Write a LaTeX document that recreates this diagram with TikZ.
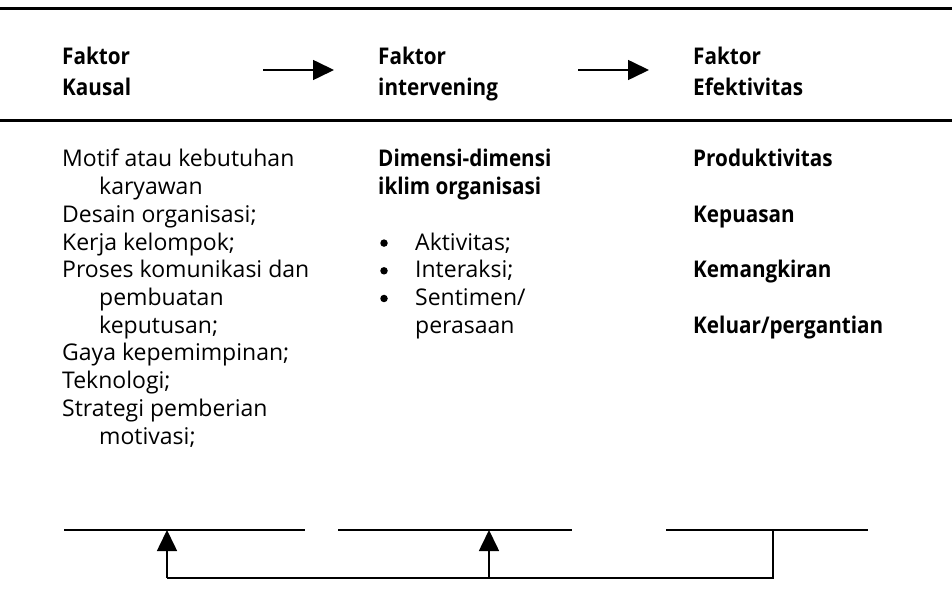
\documentclass[tikz,border=0pt]{standalone}
\usepackage{fontspec}
\setmainfont{Open Sans}[BoldFeatures={FakeStretch=0.9}]
\usetikzlibrary{arrows.meta}
\begin{document}
\begin{tikzpicture}[x=1pt,y=-1pt,
  txt/.style={anchor=base west, inner sep=0pt, font=\fontsize{23}{27.7}\selectfont},
  hd/.style={anchor=base west, inner sep=0pt, font=\fontsize{23}{27.7}\selectfont\bfseries},
  bul/.style={circle, fill, inner sep=0pt, minimum size=7.5pt},
  rule/.style={line width=3pt},
  conn/.style={line width=1.6pt},
  tip/.style={-{Triangle[length=21pt,width=20pt]}}]
\useasboundingbox (0,0) rectangle (952,609);

% header rules
\draw[rule] (0,9) -- (952,9);
\draw[rule] (0,121) -- (952,121);

% column headings
\node[hd] (h1a) at (62,65) {Faktor};
\node[hd] (h1b) at (62,96) {Kausal};
\node[hd] (h2a) at (378,65) {Faktor};
\node[hd] (h2b) at (378,96) {intervening};
\node[hd] (h3a) at (693,65) {Faktor};
\node[hd] (h3b) at (693,96) {Efektivitas};

% arrows between headings
\coordinate (a1s) at (263,70);
\coordinate (a1e) at (334,70);
\coordinate (a2s) at (578,70);
\coordinate (a2e) at (649,70);
\draw[conn,tip] (a1s) -- (a1e);
\draw[conn,tip] (a2s) -- (a2e);

% causal factors
\foreach \t/\x/\i [count=\n] in {
  {Motif atau kebutuhan}/62/0,
  {karyawan}/99/1,
  {Desain organisasi;}/62/2,
  {Kerja kelompok;}/62/3,
  {Proses komunikasi dan}/62/4,
  {pembuatan}/99/5,
  {keputusan;}/99/6,
  {Gaya kepemimpinan;}/62/7,
  {Teknologi;}/62/8,
  {Strategi pemberian}/62/9,
  {motivasi;}/99/10}
  \node[txt] (k\n) at (\x,167+27.7*\i) {\t};

% intervening factors
\node[hd] (d1) at (378,167) {Dimensi-dimensi};
\node[hd] (d2) at (378,194.7) {iklim organisasi};
\foreach \t/\i [count=\n] in {{Aktivitas;}/3, {Interaksi;}/4, {Sentimen/}/5} {
  \node[bul] (b\n) at (384,167+27.7*\i-7) {};
  \node[txt] (i\n) at (415,167+27.7*\i) {\t};
}
\node[txt] (i4) at (415,167+27.7*6) {perasaan};

% effectiveness factors
\node[hd] (e1) at (693,167) {Produktivitas};
\node[hd] (e2) at (693,167+27.7*2) {Kepuasan};
\node[hd] (e3) at (693,167+27.7*4) {Kemangkiran};
\node[hd] (e4) at (693,167+27.7*6) {Keluar/pergantian};

% feedback loop
\coordinate (u1a) at (64,530);  \coordinate (u1b) at (305,530);
\coordinate (u2a) at (338,530); \coordinate (u2b) at (572,530);
\coordinate (u3a) at (666,530); \coordinate (u3b) at (868,530);
\draw[conn] (u1a) -- (u1b);
\draw[conn] (u2a) -- (u2b);
\draw[conn] (u3a) -- (u3b);
\coordinate (f1) at (167,530);
\coordinate (f2) at (489,530);
\coordinate (f3) at (773,530);
\draw[conn] (f3) -- (773,578) -- (167,578);
\draw[conn,tip] (167,578) -- (f1);
\draw[conn,tip] (489,578) -- (f2);
\end{tikzpicture}
\end{document}
